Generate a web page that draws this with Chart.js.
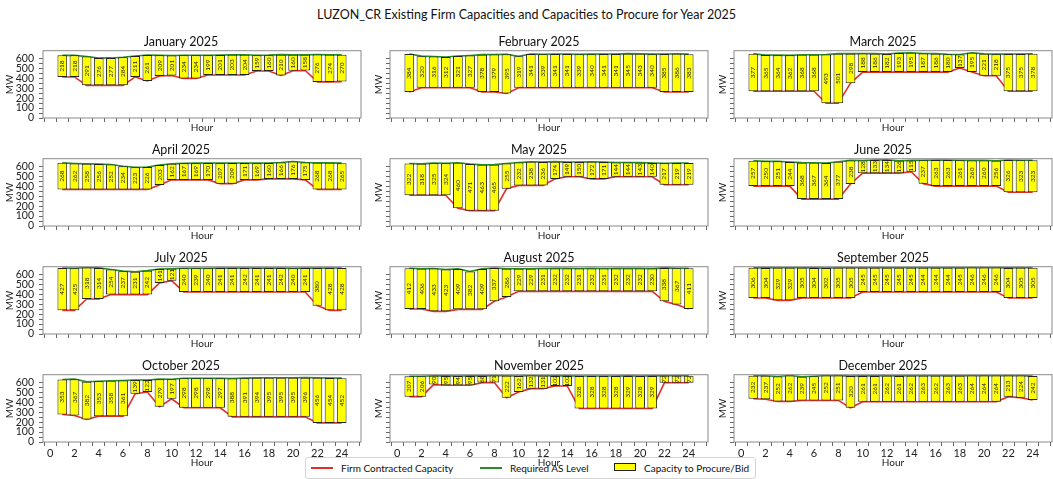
<!DOCTYPE html>
<html lang="en">
<head>
<meta charset="UTF-8">
<title>LUZON_CR Existing Firm Capacities 2025</title>
<style>
  body { margin: 0; background: #fff; font-family: Lato, sans-serif; }
  #page { position: relative; width: 1053px; height: 479px; overflow: hidden; }
  #title { position: absolute; left: 0; top: 7px; width: 1053px; text-align: center; font-size: 12.5px; color: #111; }
  canvas { position: absolute; }
  #legend { position: absolute; left: 305px; top: 457px; width: 449px; height: 20px; border: 1px solid #d4d4d4; border-radius: 3px; font-size: 10px; color: #111; }
  .hl { position: absolute; top: 9px; width: 22px; height: 2px; }
  .hp { position: absolute; top: 5px; width: 20px; height: 6px; background: #ffff00; border: 1px solid #222; }
  .lt { position: absolute; top: 3px; line-height: 14px; white-space: nowrap; }
</style>
<script src="https://cdn.jsdelivr.net/npm/chart.js"></script>
</head>
<body>
<div id="page">
  <div id="title">LUZON_CR Existing Firm Capacities and Capacities to Procure for Year 2025</div>
  <div id="legend">
    <span class="hl" style="left:5px;background:#e0302a"></span><span class="lt" style="left:35px">Firm Contracted Capacity</span>
    <span class="hl" style="left:174px;background:#2a8a2a"></span><span class="lt" style="left:204px">Required AS Level</span>
    <span class="hp" style="left:308px"></span><span class="lt" style="left:338px">Capacity to Procure/Bid</span>
  </div>
</div>
<script>
// values (MW per hour)
const months = ['January 2025', 'February 2025', 'March 2025', 'April 2025', 'May 2025', 'June 2025',
                'July 2025', 'August 2025', 'September 2025', 'October 2025', 'November 2025', 'December 2025'];
const hours = [1, 2, 3, 4, 5, 6, 7, 8, 9, 10, 11, 12, 13, 14, 15, 16, 17, 18, 19, 20, 21, 22, 23, 24];
const xTicks = [0, 1, 2, 3, 4, 5, 6, 7, 8, 9, 10, 11, 12, 13, 14, 15, 16, 17, 18, 19, 20, 21, 22, 23, 24, 25];
const yTicks = [0, 50, 100, 150, 200, 250, 300, 350, 400, 450, 500, 550, 600];

// firm contracted capacity (red line = bar bottom)
const janFirm = [415, 415, 330, 330, 330, 330, 415, 375, 425, 430, 400, 400, 435, 435, 435, 435, 475, 475, 430, 478, 480, 365, 365, 368];
const febFirm = [262, 305, 305, 305, 305, 305, 262, 262, 248, 305, 305, 305, 305, 305, 305, 305, 305, 305, 305, 305, 305, 262, 262, 262];
const marFirm = [271, 271, 271, 271, 271, 271, 149, 149, 352, 464, 464, 464, 464, 464, 464, 464, 464, 505, 464, 427, 427, 271, 271, 271];
const aprFirm = [370, 370, 370, 370, 370, 370, 370, 370, 414, 466, 466, 466, 466, 428, 428, 466, 466, 476, 476, 476, 466, 370, 370, 370];
const mayFirm = [310, 310, 310, 310, 179, 155, 155, 155, 376, 410, 410, 410, 476, 497, 497, 476, 476, 497, 497, 497, 497, 417, 417, 417];
const junFirm = [403, 403, 403, 403, 272, 272, 272, 272, 425, 534, 534, 534, 534, 548, 428, 403, 403, 403, 403, 403, 403, 341, 341, 341];
const julFirm = [239, 239, 354, 354, 398, 398, 398, 398, 516, 539, 425, 425, 425, 425, 425, 425, 425, 425, 425, 425, 425, 286, 239, 239];
const augFirm = [253, 253, 229, 229, 249, 249, 249, 330, 374, 431, 431, 431, 431, 431, 431, 431, 431, 431, 431, 431, 431, 330, 297, 253];
const sepFirm = [364, 364, 340, 340, 364, 364, 364, 364, 364, 425, 425, 425, 425, 425, 425, 425, 425, 425, 425, 425, 425, 364, 364, 364];
const octFirm = [278, 268, 227, 261, 261, 261, 488, 505, 356, 437, 346, 346, 346, 346, 254, 254, 254, 254, 254, 254, 254, 193, 193, 193];
const novFirm = [458, 458, 580, 573, 573, 573, 600, 600, 447, 505, 539, 539, 566, 566, 339, 339, 339, 339, 339, 339, 339, 598, 598, 598];
const decFirm = [437, 432, 410, 410, 420, 420, 420, 420, 346, 407, 407, 407, 407, 407, 407, 407, 407, 407, 407, 407, 407, 458, 447, 424];

// capacity to procure / bid (bar height, printed in the bar)
const janBid = [218, 218, 291, 276, 277, 284, 211, 261, 209, 201, 234, 234, 199, 201, 203, 204, 159, 160, 210, 160, 158, 276, 274, 270];
const febBid = [384, 320, 316, 312, 321, 327, 378, 379, 395, 319, 341, 339, 341, 341, 339, 340, 341, 341, 345, 343, 340, 385, 386, 383];
const marBid = [377, 365, 364, 362, 368, 368, 493, 501, 298, 188, 186, 182, 193, 195, 187, 186, 180, 137, 195, 221, 218, 375, 375, 378];
const aprBid = [268, 262, 258, 256, 252, 234, 223, 226, 203, 162, 167, 169, 170, 207, 209, 171, 169, 160, 166, 176, 175, 268, 268, 265];
const mayBid = [322, 318, 325, 324, 460, 471, 463, 465, 255, 232, 238, 236, 174, 149, 150, 172, 171, 144, 144, 143, 140, 217, 219, 219];
const junBid = [257, 250, 251, 244, 368, 367, 364, 377, 238, 128, 133, 134, 126, 115, 237, 263, 263, 261, 260, 260, 256, 326, 323, 323];
const julBid = [427, 425, 318, 314, 254, 237, 231, 242, 141, 121, 240, 239, 240, 241, 241, 242, 241, 241, 242, 240, 241, 380, 428, 428];
const augBid = [412, 406, 433, 423, 409, 382, 409, 337, 286, 229, 229, 231, 232, 232, 231, 232, 231, 232, 232, 232, 230, 338, 367, 411];
const sepBid = [306, 304, 329, 329, 305, 304, 302, 305, 305, 245, 245, 245, 245, 245, 244, 244, 244, 245, 246, 246, 246, 304, 305, 305];
const octBid = [353, 367, 382, 353, 358, 361, 139, 122, 279, 197, 298, 298, 298, 297, 388, 391, 394, 395, 395, 395, 396, 456, 454, 452];
const novBid = [207, 206, 90, 95, 94, 95, 68, 71, 222, 162, 132, 131, 102, 102, 328, 328, 328, 328, 329, 328, 329, 72, 72, 72];
const decBid = [232, 237, 252, 262, 239, 245, 252, 251, 320, 261, 261, 262, 261, 262, 263, 262, 263, 263, 264, 264, 264, 213, 224, 242];

const firmByMonth = [janFirm, febFirm, marFirm, aprFirm, mayFirm, junFirm, julFirm, augFirm, sepFirm, octFirm, novFirm, decFirm];
const bidByMonth = [janBid, febBid, marBid, aprBid, mayBid, junBid, julBid, augBid, sepBid, octBid, novBid, decBid];

// subplot grid geometry
const colLeft = [43, 389.5, 734];
const rowTop = [50.3, 158.4, 266.5, 374.6];
const boxW = 318, boxH = 67.3;
const yBand = [42, 20, 20];          // room for MW label (+ tick labels in first column)
const xBand = [19.4, 19.4, 19.4, 31]; // room for Hour label (+ tick labels in last row)
const titleBand = 17.7;

const FONT = 'Lato';
const RED = '#e0302a', GREEN = '#2a8a2a';

// draw the full box round the axes, like matplotlib spines
const frame = {
    id: 'frame',
    afterDraw(chart) {
        const a = chart.chartArea, ctx = chart.ctx;
        ctx.save();
        ctx.strokeStyle = '#8a8a8a';
        ctx.lineWidth = 1;
        ctx.strokeRect(a.left, a.top, a.right - a.left, a.bottom - a.top);
        ctx.restore();
    }
};

// rotated value labels inside the bars
const barText = {
    id: 'barText',
    afterDatasetsDraw(chart) {
        const ctx = chart.ctx;
        const ds = chart.data.datasets[2];
        const meta = chart.getDatasetMeta(2);
        ctx.save();
        ctx.font = '6.5px ' + FONT;
        ctx.fillStyle = '#222';
        ctx.textAlign = 'center';
        ctx.textBaseline = 'middle';
        meta.data.forEach((bar, i) => {
            const p = bar.getProps(['x', 'y', 'base'], true);
            const v = ds.data[i].y[1] - ds.data[i].y[0];
            ctx.save();
            ctx.translate(p.x, (p.y + p.base) / 2);
            ctx.rotate(-Math.PI / 2);
            ctx.fillText(String(v), 0, 0);
            ctx.restore();
        });
        ctx.restore();
    }
};

const page = document.getElementById('page');

months.forEach((name, m) => {
    const r = Math.floor(m / 3), c = m % 3;
    const firm = firmByMonth[m], bid = bidByMonth[m];
    const box = { l: colLeft[c], t: rowTop[r] };
    const W = Math.ceil(yBand[c] + boxW + 3);
    const H = Math.ceil(titleBand + boxH + xBand[r] + 1);

    const cv = document.createElement('canvas');
    cv.width = W; cv.height = H;
    cv.style.width = W + 'px'; cv.style.height = H + 'px';
    cv.style.left = (box.l - yBand[c]) + 'px';
    cv.style.top = (box.t - titleBand) + 'px';
    page.appendChild(cv);

    const chart = new Chart(cv, {
        type: 'bar',
        data: {
            datasets: [
                {
                    type: 'line', label: 'Firm Contracted Capacity', order: 2,
                    data: hours.map((h, i) => ({ x: h, y: firm[i] })),
                    borderColor: RED, borderWidth: 1.6, pointRadius: 0, tension: 0
                },
                {
                    type: 'line', label: 'Required AS Level', order: 3,
                    data: hours.map((h, i) => ({ x: h, y: firm[i] + bid[i] })),
                    borderColor: GREEN, borderWidth: 1.6, pointRadius: 0, tension: 0
                },
                {
                    label: 'Capacity to Procure/Bid', order: 1,
                    data: hours.map((h, i) => ({ x: h, y: [firm[i], firm[i] + bid[i]] })),
                    backgroundColor: '#ffff00', borderColor: '#222', borderWidth: 1,
                    borderSkipped: false, categoryPercentage: 0.8, barPercentage: 1.0
                }
            ]
        },
        options: {
            responsive: false,
            animation: false,
            events: [],
            layout: { padding: { left: 0, top: 0, right: W - yBand[c] - boxW, bottom: H - titleBand - boxH - xBand[r] } },
            plugins: {
                legend: { display: false },
                tooltip: { enabled: false },
                title: {
                    display: true, text: name, color: '#111',
                    font: { family: FONT, size: 12.5, weight: 'normal' },
                    padding: { top: 1.5, bottom: 1.2 }
                }
            },
            scales: {
                x: {
                    type: 'linear', min: -0.59, max: 25.59, offset: false,
                    border: { display: false },
                    grid: { drawOnChartArea: false, drawTicks: true, tickLength: 4, color: '#666' },
                    afterBuildTicks: s => { s.ticks = xTicks.map(v => ({ value: v })); },
                    afterFit: s => { s.height = xBand[r]; },
                    ticks: {
                        display: r === 3, autoSkip: false, maxRotation: 0, padding: 1, color: '#222',
                        font: { family: FONT, size: 11 },
                        callback: v => (v % 2 === 0 && v <= 24) ? v : ''
                    },
                    title: { display: true, text: 'Hour', color: '#222', font: { family: FONT, size: 10 }, padding: { top: 0, bottom: 4 } }
                },
                y: {
                    min: 0, max: 680,
                    border: { display: false },
                    grid: { drawOnChartArea: false, drawTicks: true, tickLength: 4, color: '#666' },
                    afterBuildTicks: s => { s.ticks = yTicks.map(v => ({ value: v })); },
                    afterFit: s => { s.width = yBand[c]; },
                    ticks: {
                        display: c === 0, autoSkip: false, padding: 5, color: '#222',
                        font: { family: FONT, size: 10.5 },
                        callback: v => (v % 100 === 0) ? v : ''
                    },
                    title: { display: true, text: 'MW', color: '#222', font: { family: FONT, size: 10 }, padding: { top: 3, bottom: 0 } }
                }
            }
        },
        plugins: [frame, barText]
    });

    // pin the plot area onto the reference box
    const a = chart.chartArea;
    cv.style.left = (box.l - a.left) + 'px';
    cv.style.top = (box.t - a.top) + 'px';
});
</script>
</body>
</html>
